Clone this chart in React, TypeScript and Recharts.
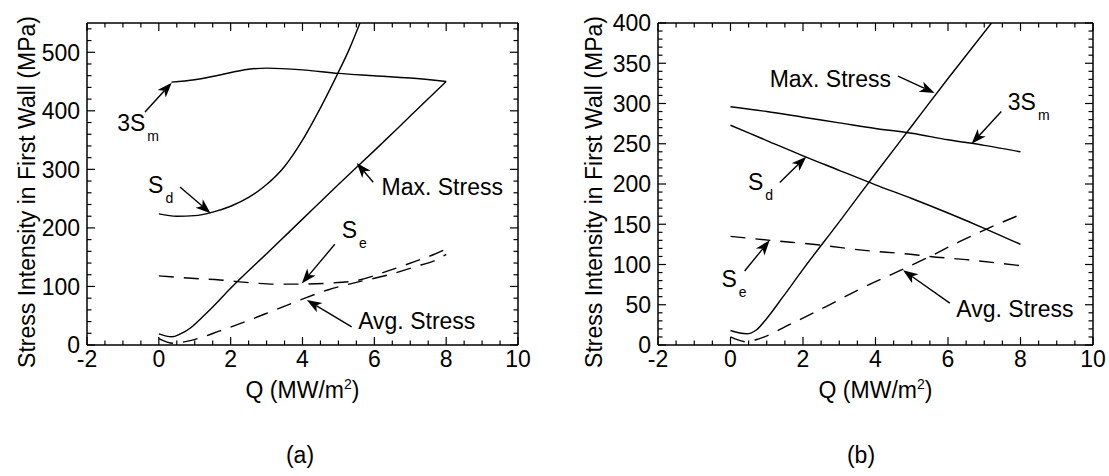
import React from "react"
import { LineChart, Line, XAxis, YAxis, ReferenceLine, ReferenceDot, Label } from "recharts"

const FONT = '"Liberation Sans", Arial, Helvetica, sans-serif'

// x axis (Q) ticks, shared by both panels
const xTicks = [-2, -1.5, -1, -0.5, 0, 0.5, 1, 1.5, 2, 2.5, 3, 3.5, 4, 4.5, 5, 5.5, 6, 6.5, 7, 7.5, 8, 8.5, 9, 9.5, 10]
const xMajor = [-2, 0, 2, 4, 6, 8, 10]

// panel (a) y ticks
const yTicksA = [0, 20, 40, 60, 80, 100, 120, 140, 160, 180, 200, 220, 240, 260, 280, 300, 320, 340, 360, 380, 400, 420, 440, 460, 480, 500, 520, 540]
const yMajorA = [0, 100, 200, 300, 400, 500]

// panel (b) y ticks
const yTicksB = [0, 10, 20, 30, 40, 50, 60, 70, 80, 90, 100, 110, 120, 130, 140, 150, 160, 170, 180, 190, 200, 210, 220, 230, 240, 250, 260, 270, 280, 290, 300, 310, 320, 330, 340, 350, 360, 370, 380, 390, 400]
const yMajorB = [0, 50, 100, 150, 200, 250, 300, 350, 400]

// panel (a) series: [Q, stress]
const sdA = [[0, 224], [0.5, 220], [1, 221], [1.5, 227], [2, 237], [2.5, 252], [3, 274], [3.5, 305], [4, 350], [4.5, 405], [5, 466], [5.3, 505], [5.6, 550]]
const smA = [[0.35, 449], [1, 453], [1.6, 460], [2.5, 471], [3, 473], [4, 470], [5, 464], [6, 460], [7, 456], [8, 450]]
const maxA = [[0, 19], [0.36, 14], [0.6, 19], [0.9, 30], [1.2, 47], [1.5, 65], [2, 97], [3, 156], [4, 215], [5, 274], [6, 332], [7, 391], [8, 450]]
const seA = [[0, 118], [0.9, 114], [1.7, 111], [2.6, 106], [3.2, 104], [3.9, 104], [4.7, 105.5], [5.5, 110], [6.4, 127], [7.1, 142], [7.9, 161], [8, 164]]
const avgA = [[0, 11], [0.4, 3], [0.9, 8], [1.7, 24], [2.5, 42], [3.2, 59], [3.9, 76], [4.7, 94], [5.5, 107], [6.4, 120], [7.1, 133], [7.9, 151], [8, 155]]

// panel (b) series
const maxB = [[0, 18], [0.44, 14], [0.72, 19], [1, 33], [1.45, 60], [2, 94], [3, 153], [4, 213], [5, 272], [6, 331], [7.2, 400]]
const sdB = [[0, 273], [1, 254], [2, 235], [3, 217], [4, 199], [5, 182], [6, 164], [7, 145], [8, 125]]
const smB = [[0, 296], [1, 290], [2, 283], [3, 276], [4, 269], [5, 263], [6, 255], [7, 248], [8, 240]]
const seB = [[0, 135], [1.1, 130], [2.5, 124], [3.7, 117.5], [4.9, 113], [5.5, 110], [6.5, 106], [8, 98.5]]
const avgB = [[0, 10], [0.44, 4], [0.8, 8], [1.7, 27], [2.65, 48], [3.5, 68], [4.7, 93], [5.5, 110], [6.3, 128], [7.06, 144], [8, 162]]

// annotations: text at [Q, stress] (baseline start), arrows from tail to head
const labelsA = [
  { at: [-1.16, 365], text: "3S", sub: "m" },
  { at: [-0.3, 259], text: "S", sub: "d" },
  { at: [6.2, 256], text: "Max. Stress" },
  { at: [5.09, 182], text: "S", sub: "e" },
  { at: [5.55, 28], text: "Avg. Stress" },
]
const arrowsA = [
  { from: [-0.385, 398], to: [0.36, 448] },
  { from: [0.59, 270], to: [1.44, 225] },
  { from: [5.97, 278], to: [5.51, 311] },
  { from: [4.9, 172], to: [3.98, 105] },
  { from: [5.37, 31], to: [4.12, 77] },
]
const labelsB = [
  { at: [1.08, 321], text: "Max. Stress" },
  { at: [7.65, 292], text: "3S", sub: "m" },
  { at: [0.48, 192.5], text: "S", sub: "d" },
  { at: [-0.25, 72], text: "S", sub: "e" },
  { at: [6.23, 35], text: "Avg. Stress" },
]
const arrowsB = [
  { from: [4.62, 334], to: [5.63, 313] },
  { from: [7.47, 290], to: [6.65, 250] },
  { from: [1.36, 202], to: [2.09, 234] },
  { from: [0.39, 92], to: [1.08, 130] },
  { from: [6.05, 52], to: [4.76, 93] },
]

const toRows = (pts: number[][]) => pts.map(([q, v]) => ({ q, v }))

const tickStroke = { stroke: "#000", strokeWidth: 1.2 }

// vertical reference line drawn only as inward ticks at bottom and top
function xTickMark(p: any, major: boolean) {
  const len = major ? 8 : 4.5
  const top = Math.min(p.y1, p.y2)
  const bot = Math.max(p.y1, p.y2)
  return (
    <g>
      <line x1={p.x1} y1={bot} x2={p.x1} y2={bot - len} {...tickStroke} />
      <line x1={p.x1} y1={top} x2={p.x1} y2={top + len} {...tickStroke} />
    </g>
  )
}

// horizontal reference line drawn only as inward ticks at left and right
function yTickMark(p: any, major: boolean) {
  const len = major ? 8 : 4.5
  const l = Math.min(p.x1, p.x2)
  const r = Math.max(p.x1, p.x2)
  return (
    <g>
      <line x1={l} y1={p.y1} x2={l + len} y2={p.y1} {...tickStroke} />
      <line x1={r} y1={p.y1} x2={r - len} y2={p.y1} {...tickStroke} />
    </g>
  )
}

function xLabel(p: any) {
  return (
    <text x={p.x} y={p.y + 21.5} textAnchor="middle" fontSize={23} fontFamily={FONT} fill="#000">
      {p.payload.value}
    </text>
  )
}

function yLabel(p: any) {
  return (
    <text x={p.x - 7} y={p.y + 8.3} textAnchor="end" fontSize={23} fontFamily={FONT} fill="#000">
      {p.payload.value}
    </text>
  )
}

function arrowShape(p: any) {
  const { x1, y1, x2, y2 } = p
  const dx = x2 - x1
  const dy = y2 - y1
  const len = Math.hypot(dx, dy) || 1
  const ux = dx / len
  const uy = dy / len
  const L = 15
  const W = 5.5
  const N = 4
  const bx = x2 - ux * L
  const by = y2 - uy * L
  const nx = x2 - ux * (L - N)
  const ny = y2 - uy * (L - N)
  const pts = `${x2},${y2} ${bx - uy * W},${by + ux * W} ${nx},${ny} ${bx + uy * W},${by - ux * W}`
  return (
    <g>
      <line x1={x1} y1={y1} x2={nx} y2={ny} stroke="#000" strokeWidth={1.4} />
      <polygon points={pts} fill="#000" />
    </g>
  )
}

function annoText(p: any, text: string, sub?: string) {
  return (
    <text x={p.cx} y={p.cy} fontSize={23} fontFamily={FONT} fill="#000">
      {text}
      {sub && (
        <tspan dx={2} dy={10} fontSize={14}>
          {sub}
        </tspan>
      )}
    </text>
  )
}

function Panel(props: any) {
  const { width, yAxisWidth, marginRight, yDomain, yTicks, yMajor, series, labels, arrows, titleX } = props
  return (
    <LineChart width={width} height={476} margin={{ top: 23, right: marginRight, bottom: 71, left: 0 }} style={{ overflow: "visible" }}>
      <XAxis
        type="number"
        dataKey="q"
        domain={[-2, 10]}
        ticks={xMajor}
        interval={0}
        allowDataOverflow
        height={60}
        tickLine={false}
        tickSize={0}
        tickMargin={0}
        axisLine={{ stroke: "#000", strokeWidth: 1.5 }}
        tick={xLabel}
      >
        <Label
          content={(lp: any) => {
            const vb = lp.viewBox
            return (
              <text x={vb.x + vb.width / 2} y={vb.y + 53} textAnchor="middle" fontSize={23} fontFamily={FONT} fill="#000">
                Q (MW/m
                <tspan dy={-9} fontSize={14}>2</tspan>
                <tspan dy={9}>)</tspan>
              </text>
            )
          }}
        />
      </XAxis>
      <YAxis
        type="number"
        domain={yDomain}
        ticks={yMajor}
        interval={0}
        allowDataOverflow
        width={yAxisWidth}
        tickLine={false}
        tickSize={0}
        tickMargin={0}
        axisLine={{ stroke: "#000", strokeWidth: 1.5 }}
        tick={yLabel}
      >
        <Label
          content={(lp: any) => {
            const vb = lp.viewBox
            const cx = vb.x + titleX
            const cy = vb.y + vb.height / 2 + 8
            return (
              <text x={cx} y={cy} transform={`rotate(-90, ${cx}, ${cy})`} textAnchor="middle" fontSize={23} fontFamily={FONT} fill="#000">
                Stress Intensity in First Wall (MPa)
              </text>
            )
          }}
        />
      </YAxis>
      {/* frame: top and right edges */}
      <ReferenceLine x={10} stroke="#000" strokeWidth={1.5} ifOverflow="visible" />
      <ReferenceLine y={yDomain[1]} stroke="#000" strokeWidth={1.5} ifOverflow="visible" />
      {xTicks.map((v) => (
        <ReferenceLine key={"xt" + v} x={v} ifOverflow="visible" shape={(p: any) => xTickMark(p, xMajor.includes(v))} />
      ))}
      {yTicks.map((v: number) => (
        <ReferenceLine key={"yt" + v} y={v} ifOverflow="visible" shape={(p: any) => yTickMark(p, yMajor.includes(v))} />
      ))}
      {series.map((s: any, i: number) => (
        <Line
          key={i}
          data={toRows(s.pts)}
          dataKey="v"
          type="monotone"
          stroke="#000"
          strokeWidth={1.4}
          strokeDasharray={s.dashed ? "15 10" : undefined}
          dot={false}
          isAnimationActive={false}
        />
      ))}
      {arrows.map((a: any, i: number) => (
        <ReferenceLine
          key={"a" + i}
          segment={[
            { x: a.from[0], y: a.from[1] },
            { x: a.to[0], y: a.to[1] },
          ]}
          ifOverflow="visible"
          shape={arrowShape}
        />
      ))}
      {labels.map((l: any, i: number) => (
        <ReferenceDot
          key={"l" + i}
          x={l.at[0]}
          y={l.at[1]}
          r={0}
          ifOverflow="visible"
          shape={(p: any) => annoText(p, l.text, l.sub)}
        />
      ))}
    </LineChart>
  )
}

export default function App() {
  const seriesA = [
    { pts: sdA }, { pts: smA }, { pts: maxA }, { pts: seA, dashed: true }, { pts: avgA, dashed: true },
  ]
  const seriesB = [
    { pts: maxB }, { pts: sdB }, { pts: smB }, { pts: seB, dashed: true }, { pts: avgB, dashed: true },
  ]
  return (
    <div style={{ position: "absolute", left: 0, top: 0, width: 1109, height: 476, background: "#fff", overflow: "hidden" }}>
      <svg width={1109} height={476} style={{ position: "absolute", left: 0, top: 0 }}>
        <text x={300} y={463} textAnchor="middle" fontSize={23} fontFamily={FONT} fill="#000">(a)</text>
        <text x={861} y={463} textAnchor="middle" fontSize={23} fontFamily={FONT} fill="#000">(b)</text>
      </svg>
      <div style={{ position: "absolute", left: 0, top: 0 }}>
        <Panel width={540} yAxisWidth={87} marginRight={22} yDomain={[0, 550]} yTicks={yTicksA} yMajor={yMajorA}
          series={seriesA} labels={labelsA} arrows={arrowsA} titleX={35} />
      </div>
      <div style={{ position: "absolute", left: 560, top: 0 }}>
        <Panel width={549} yAxisWidth={98} marginRight={16} yDomain={[0, 400]} yTicks={yTicksB} yMajor={yMajorB}
          series={seriesB} labels={labelsB} arrows={arrowsB} titleX={42} />
      </div>
    </div>
  )
}
